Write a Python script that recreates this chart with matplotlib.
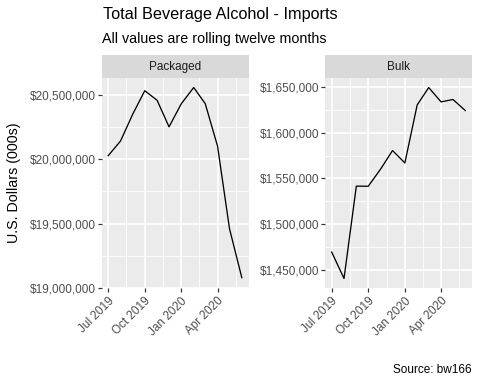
import matplotlib
matplotlib.use("Agg")
import matplotlib.pyplot as plt
import matplotlib.dates as mdates
import matplotlib.ticker as mticker
import numpy as np
import pandas as pd

plt.rcParams['font.family'] = ['Liberation Sans', 'DejaVu Sans']

months = ['2019-07-01', '2019-08-01', '2019-09-01', '2019-10-01', '2019-11-01', '2019-12-01',
          '2020-01-01', '2020-02-01', '2020-03-01', '2020-04-01', '2020-05-01', '2020-06-01']
packaged = [20026000, 20140000, 20350000, 20530000, 20456000, 20250000,
            20430000, 20555000, 20430000, 20100000, 19460000, 19080000]
bulk = [1469400, 1440500, 1541600, 1541500, 1560300, 1580600,
        1567000, 1630600, 1649600, 1633900, 1636500, 1624400]

packaged_ticks = [19000000, 19500000, 20000000, 20500000]
bulk_ticks = [1450000, 1500000, 1550000, 1600000, 1650000]
date_ticks = ['2019-07-01', '2019-10-01', '2020-01-01', '2020-04-01']

dates = pd.to_datetime(months)
major_x = mdates.date2num(pd.to_datetime(date_ticks))

W, H = 480, 384
fig = plt.figure(figsize=(W / 72, H / 72), dpi=72)

panels = [('Packaged', packaged, packaged_ticks, 101.5), ('Bulk', bulk, bulk_ticks, 325)]
pw, ptop, pbot = 147, 78, 288
strip_h = 23

for name, vals, yt, x0 in panels:
    ax = fig.add_axes([x0 / W, (H - pbot) / H, pw / W, (pbot - ptop) / H])
    ax.set_facecolor('#EBEBEB')
    for s in ax.spines.values():
        s.set_visible(False)
    x = mdates.date2num(dates)
    xr = x.max() - x.min()
    ax.set_xlim(x.min() - 0.05 * xr, x.max() + 0.05 * xr)
    yr = max(vals) - min(vals)
    ax.set_ylim(min(vals) - 0.05 * yr, max(vals) + 0.05 * yr)

    # minor gridlines at midpoints, ggplot style
    step_x = major_x[1] - major_x[0]
    minor_x = np.concatenate([major_x - step_x / 2, [major_x[-1] + step_x / 2]])
    step_y = yt[1] - yt[0]
    minor_y = [t - step_y / 2 for t in yt] + [yt[-1] + step_y / 2]
    for mx in minor_x:
        ax.axvline(mx, color='white', lw=0.8, zorder=0)
    for my in minor_y:
        ax.axhline(my, color='white', lw=0.8, zorder=0)
    for mx in major_x:
        ax.axvline(mx, color='white', lw=1.6, zorder=0)
    for t in yt:
        ax.axhline(t, color='white', lw=1.6, zorder=0)

    ax.plot(x, vals, color='black', lw=1.3, zorder=3)

    ax.set_xticks(major_x)
    ax.set_xticklabels([pd.Timestamp(d).strftime('%b %Y') for d in date_ticks],
                       rotation=45, ha='right', rotation_mode='anchor')
    ax.set_yticks(yt)
    ax.yaxis.set_major_formatter(mticker.FuncFormatter(lambda v, p: '${:,.0f}'.format(v)))
    ax.tick_params(axis='both', length=3.6, width=1.2, color='#333333',
                   labelcolor='#4D4D4D', labelsize=11.8, pad=2.2)
    ax.tick_params(axis='x', pad=3.5)

    sax = fig.add_axes([x0 / W, (H - ptop) / H, pw / W, strip_h / H])
    sax.set_facecolor('#D9D9D9')
    sax.set_xticks([])
    sax.set_yticks([])
    for s in sax.spines.values():
        s.set_visible(False)
    sax.text(0.5, 0.48, name, ha='center', va='center', fontsize=11.8, color='#1A1A1A',
             transform=sax.transAxes)

fig.text(103 / W, 1 - 19.5 / H, 'Total Beverage Alcohol - Imports', fontsize=16.2,
         color='black', ha='left', va='baseline')
fig.text(102 / W, 1 - 43 / H, 'All values are rolling twelve months', fontsize=14.3,
         color='black', ha='left', va='baseline')
fig.text(14.5 / W, 1 - 183 / H, 'U.S. Dollars (000s)', fontsize=14.2, rotation=90,
         ha='center', va='center')
fig.text(472 / W, 1 - 373.3 / H, 'Source: bw166', fontsize=11.8, ha='right', va='baseline')

fig.savefig('out.png', dpi=72)
